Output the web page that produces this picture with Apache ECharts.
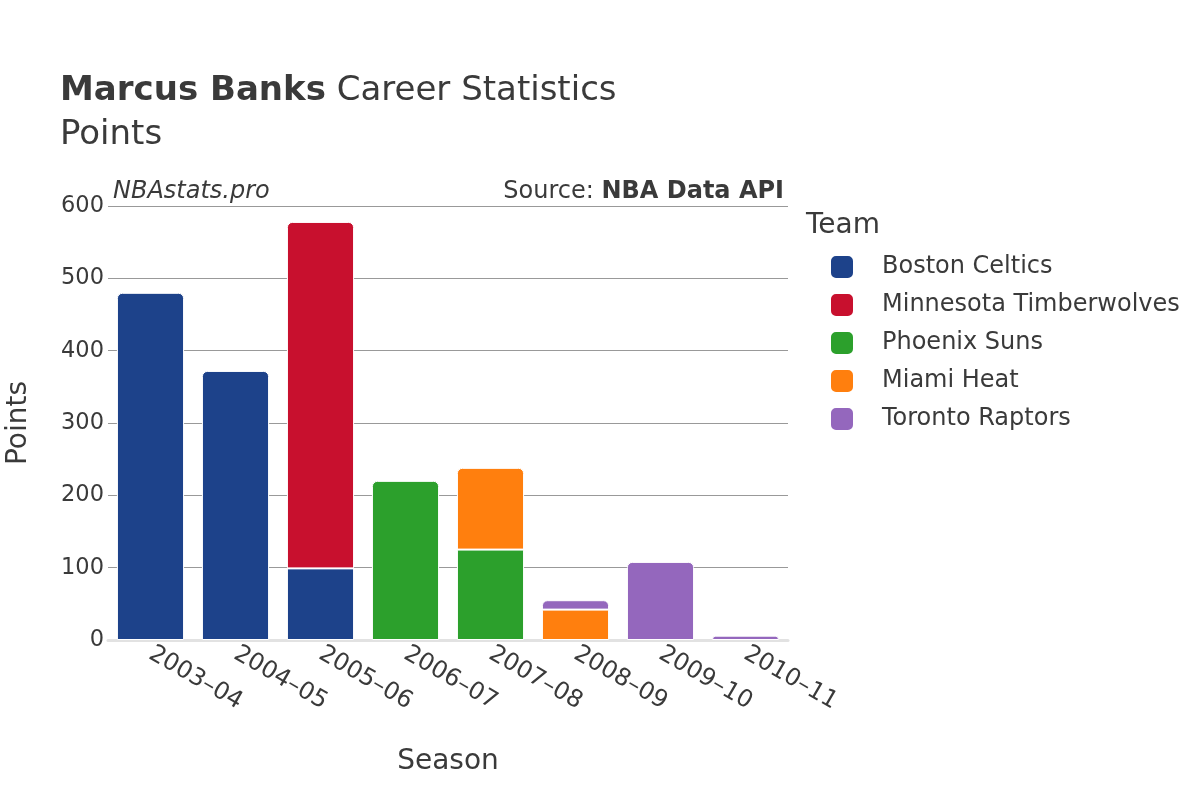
<!DOCTYPE html>
<html><head><meta charset="utf-8">
<script src="https://cdn.jsdelivr.net/npm/echarts@6/dist/echarts.min.js"></script>
<style>html,body{margin:0;padding:0;background:#fff}#c{width:1200px;height:800px}</style>
</head><body><div id="c"></div>
<script>
const seasons = ['2003–04','2004–05','2005–06','2006–07','2007–08','2008–09','2009–10','2010–11'];
const teams = ['Boston Celtics','Minnesota Timberwolves','Phoenix Suns','Miami Heat','Toronto Raptors'];
const teamColors = ['#1d428a','#c8102e','#2ca02c','#ff7f0e','#9467bd'];
const bostonCeltics = [480, 372, 99, null, null, null, null, null];
const minnesotaTimberwolves = [null, null, 479, null, null, null, null, null];
const phoenixSuns = [null, null, null, 220, 125, null, null, null];
const miamiHeat = [null, null, null, null, 113, 42, null, null];
const torontoRaptors = [null, null, null, null, null, 13, 108, 6];
const yTicks = [0, 100, 200, 300, 400, 500, 600];

const seriesData = [bostonCeltics, minnesotaTimberwolves, phoenixSuns, miamiHeat, torontoRaptors];
const FONT = 'DejaVu Sans';
const TXT = '#3a3a3a';

// find top segment per category for rounded corners
const topIdx = seasons.map((_, i) => {
  let t = -1;
  seriesData.forEach((d, s) => { if (d[i] != null && d[i] > 0) t = s; });
  return t;
});

const series = teams.map((name, s) => ({
  name, type: 'bar', stack: 'total', barCategoryGap: '21%',
  itemStyle: { color: teamColors[s], borderColor: '#fff', borderWidth: 1 },
  emphasis: { disabled: true },
  data: seriesData[s].map((v, i) => v == null ? null : {
    value: v,
    itemStyle: { borderRadius: topIdx[i] === s ? [5, 5, 0, 0] : 0 }
  })
}));

const chart = echarts.init(document.getElementById('c'), null, { renderer: 'canvas' });
chart.setOption({
  backgroundColor: '#fff',
  animation: false,
  textStyle: { fontFamily: FONT, color: TXT },
  title: [
    { text: '{b|Marcus Banks} Career Statistics', left: 55, top: 69,
      textStyle: { fontFamily: FONT, fontSize: 34, fontWeight: 'normal', color: TXT,
        rich: { b: { fontFamily: FONT, fontSize: 34, fontWeight: 'bold', color: TXT } } } },
    { text: 'Points', left: 55, top: 113,
      textStyle: { fontFamily: FONT, fontSize: 34, fontWeight: 'normal', color: TXT } },
    { text: 'NBAstats.pro', left: 108, top: 175,
      textStyle: { fontFamily: FONT, fontSize: 24, fontStyle: 'italic', fontWeight: 'normal', color: TXT } },
    { text: 'Source: {b|NBA Data API}', right: 411, top: 175,
      textStyle: { fontFamily: FONT, fontSize: 24, fontWeight: 'normal', color: TXT,
        rich: { b: { fontFamily: FONT, fontSize: 24, fontWeight: 'bold', color: TXT } } } },
    { text: 'Team', left: 801, top: 207,
      textStyle: { fontFamily: FONT, fontSize: 28, fontWeight: 'normal', color: TXT } }
  ],
  legend: {
    orient: 'vertical', left: 824, top: 249, itemGap: 12, itemWidth: 24, itemHeight: 24,
    icon: 'roundRect',
    data: teams,
    textStyle: { fontFamily: FONT, fontSize: 24, color: TXT, padding: [0, 0, 0, 23] },
    selectedMode: false
  },
  grid: { left: 108, right: 412, top: 206, bottom: 160, outerBoundsMode: 'none' },
  xAxis: {
    type: 'category', data: seasons,
    name: 'Season', nameLocation: 'middle', nameGap: 108,
    nameTextStyle: { fontFamily: FONT, fontSize: 28, color: TXT },
    axisLine: { show: true, lineStyle: { color: '#e2e2e2', width: 3 } },
    axisTick: { show: false },
    axisLabel: { rotate: -30, fontFamily: FONT, fontSize: 24, color: TXT, margin: 12 }
  },
  yAxis: {
    type: 'value', min: 0, max: 600, interval: 100,
    name: 'Points', nameLocation: 'middle', nameGap: 75, nameRotate: 90,
    nameTextStyle: { fontFamily: FONT, fontSize: 28, color: TXT },
    axisLine: { show: false }, axisTick: { show: false },
    axisLabel: { fontFamily: FONT, fontSize: 22.5, color: TXT, margin: 4,
      formatter: v => yTicks.includes(v) ? String(v) : '' },
    splitLine: { lineStyle: { color: '#999', width: 1 } }
  },
  series
});
</script></body></html>
